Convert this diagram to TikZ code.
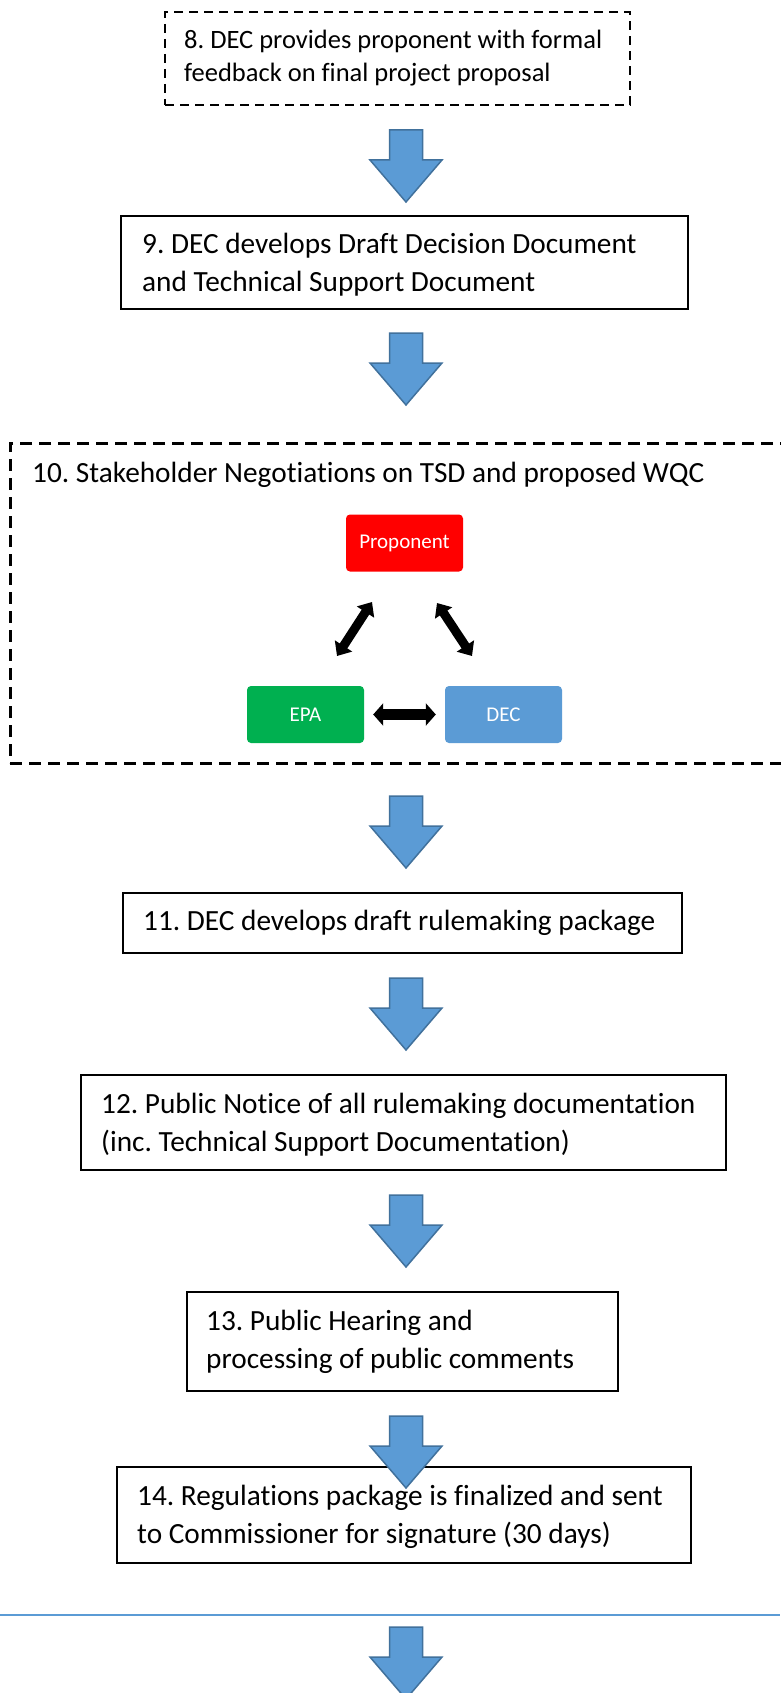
\documentclass[tikz,border=0pt]{standalone}
\usepackage{fontspec}
\setmainfont{Carlito}[Ligatures={NoCommon}]
\frenchspacing
\usetikzlibrary{arrows.meta,fit}
\definecolor{arrowblue}{HTML}{5B9BD5}
\definecolor{arrowedge}{HTML}{41719C}
\definecolor{propred}{HTML}{FF0000}
\definecolor{epagreen}{HTML}{00B050}
\definecolor{decblue}{HTML}{5B9BD5}
\newcommand\myfontA{\fontsize{29.3}{35}\selectfont\frenchspacing}
\newcommand\myfontB{\fontsize{26.5}{32}\selectfont\frenchspacing}
\newcommand\myfontC{\fontsize{21}{25}\selectfont}
\tikzset{
  stepbox/.style={draw=black, line width=2.5pt, inner sep=0pt, outer sep=0pt},
  dashbox/.style={draw=black, line width=2pt, dash pattern=on 9pt off 6pt, inner sep=0pt, outer sep=0pt},
  bigdash/.style={draw=black, line width=3pt, dash pattern=on 12pt off 7pt, inner sep=0pt, outer sep=0pt},
  txt/.style={anchor=base west, inner sep=0pt, font=\myfontA},
  txtsmall/.style={anchor=base west, inner sep=0pt, font=\myfontB},
  party/.style={rounded corners=4pt, inner sep=0pt, text=white, font=\myfontC, minimum width=117pt, minimum height=57pt},
  dbl/.style={line width=11pt, black, {Triangle[length=10pt,width=22pt]}-{Triangle[length=10pt,width=22pt]}},
  dbldiag/.style={line width=9pt, black, {Triangle[length=12pt,width=20pt]}-{Triangle[length=12pt,width=20pt]}},
  blockarrow/.pic={
    \path[fill=arrowblue, draw=arrowedge, line width=1.5pt, line join=miter]
      (-16.5,0) -- (16.5,0) -- (16.5,30) -- (36,30) -- (0,72) -- (-36,30) -- (-16.5,30) -- cycle;
  }
}
\begin{document}
\begin{tikzpicture}[x=1pt,y=-1pt]
\useasboundingbox[fill=white] (0,0) rectangle (780,1693);

% Box 8
\node[dashbox, fit={(165,12) (630,105)}] (b8) {};
\node[txtsmall] (t8a) at (184,49) {8. DEC provides proponent with formal};
\node[txtsmall] (t8b) at (184,82) {feedback on final project proposal};

\pic at (406,130) {blockarrow};

% Box 9
\node[stepbox, fit={(121,216) (688,309)}] (b9) {};
\node[txt] (t9a) at (142,254) {9. DEC develops Draft Decision Document};
\node[txt] (t9b) at (142,292) {and Technical Support Document};

\pic at (406,333) {blockarrow};

% Box 10
\node[bigdash, fit={(10,443) (792,763)}] (b10) {};
\node[txt] (t10) at (32,482) {10. Stakeholder Negotiations on TSD and proposed WQC};
\node[party, fill=propred] (prop) at (404.5,543) {Proponent};
\node[party, fill=epagreen] (epa) at (305.5,714.5) {EPA};
\node[party, fill=decblue] (dec) at (503.5,714.5) {DEC};
\coordinate (l1) at (372,602);
\coordinate (l2) at (337,656);
\coordinate (r1) at (437,603);
\coordinate (r2) at (472,656);
\draw[dbldiag] (l1) -- (l2);
\draw[dbldiag] (r1) -- (r2);
\draw[dbl, shorten <=9pt, shorten >=9pt] (epa.east) -- (dec.west);

\pic at (406,796) {blockarrow};

% Box 11
\node[stepbox, fit={(123,893) (682,953)}] (b11) {};
\node[txt] (t11) at (143,930) {11. DEC develops draft rulemaking package};

\pic at (406,978) {blockarrow};

% Box 12
\node[stepbox, fit={(81,1075) (726,1170)}] (b12) {};
\node[txt] (t12a) at (101,1113) {12. Public Notice of all rulemaking documentation};
\node[txt] (t12b) at (101,1151) {(inc. Technical Support Documentation)};

\pic at (406,1195) {blockarrow};

% Box 13
\node[stepbox, fit={(187,1292) (618,1391)}] (b13) {};
\node[txt] (t13a) at (206,1330) {13. Public Hearing and};
\node[txt] (t13b) at (206,1368) {processing of public comments};

% Box 14
\node[stepbox, fit={(117,1467) (691,1563)}] (b14) {};
\pic at (406,1416) {blockarrow};
\node[txt] (t14a) at (137,1505) {14. Regulations package is finalized and sent};
\node[txt] (t14b) at (137,1543) {to Commissioner for signature (30 days)};

% Separator line
\coordinate (sepL) at (0,1615);
\coordinate (sepR) at (780,1615);
\draw[arrowblue, line width=2pt] (sepL) -- (sepR);

\pic at (406,1627) {blockarrow};
\end{tikzpicture}
\end{document}
